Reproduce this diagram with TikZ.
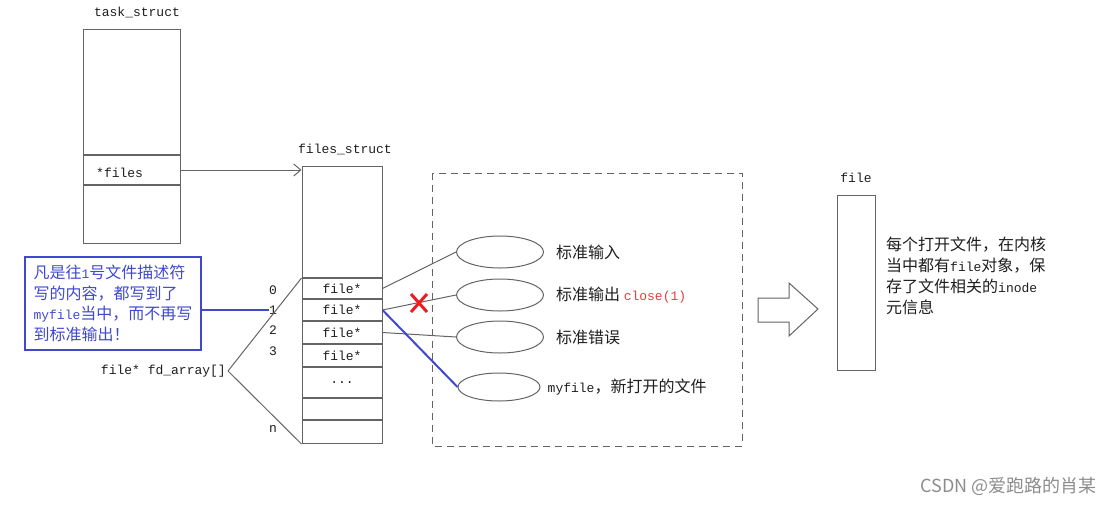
\documentclass[tikz,border=0pt]{standalone}
\usepackage{fontspec}
\setmonofont{Liberation Mono}
\newfontfamily\cjk{Noto Sans CJK SC}
\usetikzlibrary{arrows.meta, positioning, shapes.geometric, shapes.misc}
\definecolor{linegray}{RGB}{100,100,100}
\definecolor{inkgray}{RGB}{30,30,30}
\definecolor{noteblue}{RGB}{64,72,206}
\definecolor{closered}{RGB}{232,58,58}
\definecolor{markred}{RGB}{236,30,36}
\newcommand{\ltn}[1]{{\ttfamily\fontsize{13}{21}\selectfont #1}}

\begin{document}
\begin{tikzpicture}[
  x=1pt, y=-1pt,
  cell/.style={draw=linegray, line width=1pt, minimum width=80pt, inner sep=0pt,
    font=\ttfamily\fontsize{13}{16}\selectfont, text=inkgray},
  tcell/.style={cell, minimum width=97pt},
  lbl/.style={font=\ttfamily\fontsize{13}{16}\selectfont, text=inkgray, inner sep=0pt},
  zhlbl/.style={font=\cjk\fontsize{16}{21}\selectfont, text=inkgray, inner sep=0pt},
  fileobj/.style={ellipse, draw=linegray, line width=1pt, minimum width=87pt,
    minimum height=32pt, inner sep=0pt},
  link/.style={draw=linegray, line width=1pt},
  bluelink/.style={draw=noteblue, line width=2pt}
]
\useasboundingbox (0,0) rectangle (1111,504);

% task_struct
\node[lbl] (tlabel) at (137,12) {task\_struct};
\node[tcell, minimum height=125pt, anchor=north] (ttop) at (131.5,29) {};
\node[tcell, minimum height=29pt, anchor=north] (tfiles) at (ttop.south) {};
\node[tcell, minimum height=58pt, anchor=north] (tbot) at (tfiles.south) {};
\node[lbl, anchor=west] (tfilestxt) at (96,173) {*files};

% files_struct
\node[lbl] (fslabel) at (345,149) {files\_struct};
\node[cell, minimum height=111pt, anchor=north] (fstop) at (342,166) {};
\node[cell, minimum height=20pt, anchor=north] (fd0) at (fstop.south) {file*};
\node[cell, minimum height=21pt, anchor=north] (fd1) at (fd0.south) {file*};
\node[cell, minimum height=22pt, anchor=north] (fd2) at (fd1.south) {file*};
\node[cell, minimum height=22pt, anchor=north] (fd3) at (fd2.south) {file*};
\node[cell, minimum height=30pt, anchor=north] (fddots) at (fd3.south) {...};
\node[cell, minimum height=21pt, anchor=north] (fdx) at (fddots.south) {};
\node[cell, minimum height=23pt, anchor=north] (fdn) at (fdx.south) {};

\draw[link, -{Straight Barb[length=7pt, width=12pt]}] (tfiles.east) -- (tfiles.east -| fstop.west);

\node[lbl] (i0) at (273,290) {0};
\node[lbl] (i1) at (273,310) {1};
\node[lbl] (i2) at (273,330) {2};
\node[lbl] (i3) at (273,351) {3};
\node[lbl] (in) at (273,429) {n};

\node[lbl, anchor=east] (fdarr) at (226,371) {file* fd\_array[]};
\draw[link] ([xshift=2pt]fdarr.east) -- (fd0.north west);
\draw[link] ([xshift=2pt]fdarr.east) -- (fdn.south west);

% note on fd 1
\node[draw=noteblue, line width=1.8pt, minimum width=176pt, minimum height=93pt,
  inner sep=0pt, text=noteblue, font=\cjk\fontsize{16}{20.5}\selectfont, align=left]
  (note) at (113,303.5)
  {凡是往\ltn{1}号文件描述符\\写的内容，都写到了\\\ltn{myfile}当中，而不再写\\到标准输出！};
\draw[bluelink] (note.east |- i1) -- (i1.west);

% open files
\draw[linegray, line width=1pt, dash pattern=on 7pt off 5pt] (432,173) rectangle (742,446);
\node[fileobj] (stdin) at (500,252) {};
\node[fileobj] (stdout) at (500,295) {};
\node[fileobj] (stderr) at (500,337) {};
\node[fileobj, minimum width=82pt, minimum height=28pt] (myfile) at (499,387) {};

\node[zhlbl, right=12pt of stdin] (stdinlbl) {标准输入};
\node[zhlbl, right=12pt of stdout] (stdoutlbl) {标准输出 {\color{closered}\ltn{close(1)}}};
\node[zhlbl, right=12pt of stderr] (stderrlbl) {标准错误};
\node[zhlbl, right=7pt of myfile] (myfilelbl) {\ltn{myfile}，新打开的文件};

\draw[link] (fd0.east) -- (stdin.west);
\draw[link] (fd1.east) -- (stdout.west);
\draw[link] (fd2.east) -- (stderr.west);
\draw[bluelink] (fd1.east) -- (myfile.west);
\node[cross out, draw=markred, line width=3pt, minimum width=13pt, minimum height=15pt,
  inner sep=0pt] (cut) at (419,303) {};

% file object
\draw[linegray, line width=1pt] (758,298) -- (789,298) -- (789,283) -- (818,309)
  -- (789,336) -- (789,322) -- (758,322) -- cycle;
\node[draw=linegray, line width=1pt, minimum width=38pt, minimum height=175pt,
  inner sep=0pt] (filebox) at (856,282.5) {};
\node[lbl] (filelbl) at (856,178) {file};
\node[zhlbl, anchor=north west, align=left] (fileinfo) at (886,237)
  {每个打开文件，在内核\\当中都有\ltn{file}对象，保\\存了文件相关的\ltn{inode}\\元信息};

\node[font=\cjk\fontsize{18}{20}\selectfont, text=gray!90, anchor=east, inner sep=0pt]
  (mark) at (1097,486) {CSDN @爱跑路的肖某};
\end{tikzpicture}
\end{document}
